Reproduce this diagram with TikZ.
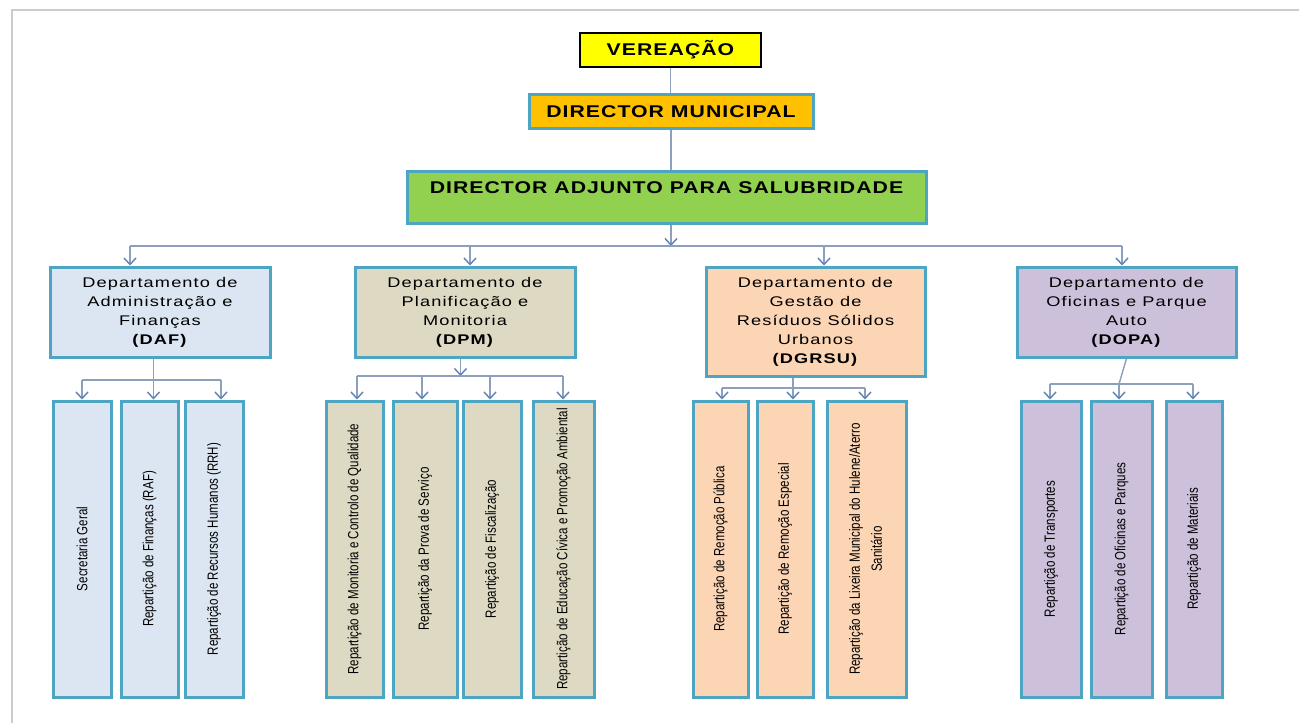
\documentclass[tikz,border=0pt]{standalone}
\usepackage{fontspec}
\setmainfont{Liberation Sans}
\newfontfamily\wfont[FakeStretch=1.3,LetterSpace=8]{Liberation Sans}
\newfontfamily\tfont[FakeStretch=1.25,LetterSpace=6]{Liberation Sans}
\newfontfamily\nfont[FakeStretch=0.78]{Liberation Sans}
\usetikzlibrary{arrows.meta}
\definecolor{tealb}{RGB}{75,165,195}
\definecolor{vyellow}{RGB}{255,255,0}
\definecolor{dmorange}{RGB}{255,192,0}
\definecolor{adjgreen}{RGB}{146,208,80}
\definecolor{dafc}{RGB}{220,230,242}
\definecolor{dpmc}{RGB}{221,217,195}
\definecolor{dgrc}{RGB}{252,213,181}
\definecolor{dopac}{RGB}{204,192,218}
\definecolor{connc}{RGB}{140,160,190}
\definecolor{arrc}{RGB}{95,130,180}
\newcommand\depttxt{\wfont\fontsize{14}{19}\selectfont}
\newcommand\subtxt{\nfont\fontsize{14.8}{22}\selectfont}
\newcommand\toptxt{\tfont\bfseries\fontsize{17}{20}\selectfont}
\begin{document}
\begin{tikzpicture}[x=1pt,y=-1pt,
  box/.style={draw=tealb,line width=3pt,inner sep=0pt,align=center},
  dept/.style={box,minimum width=220pt,minimum height=90pt,font=\depttxt},
  sub/.style={box,minimum height=296pt},
  conn/.style={draw=connc,line width=1.4pt},
  arr/.style={conn,-{Straight Barb[length=6.5pt,width=12pt,color=arrc]}}]
\useasboundingbox (0,0) rectangle (1299,723);
\fill[white] (0,0) rectangle (1299,723);
\draw[gray!40,line width=2pt] (12,723) -- (12,10) -- (1299,10);

% top
\node[box,draw=black,line width=2.5pt,fill=vyellow,minimum width=181pt,minimum height=34pt] (vere) at (670.5,50) {\toptxt VEREAÇÃO};
\node[box,fill=dmorange,minimum width=284pt,minimum height=34pt] (dm) at (671,111.5) {\toptxt DIRECTOR MUNICIPAL};
\node[box,fill=adjgreen,minimum width=519pt,minimum height=52pt,text height=18pt,text depth=26pt] (adj) at (666.5,197) {\toptxt DIRECTOR ADJUNTO PARA SALUBRIDADE};

% departments
\node[dept,fill=dafc] (daf) at (160,312) {Departamento de\\Administração e\\Finanças\\\textbf{(DAF)}};
\node[dept,fill=dpmc] (dpm) at (465,312) {Departamento de\\Planificação e\\Monitoria\\\textbf{(DPM)}};
\node[dept,fill=dgrc,minimum width=219pt,minimum height=109pt] (dgr) at (815.5,321.5) {Departamento de\\Gestão de\\Resíduos Sólidos\\Urbanos\\\textbf{(DGRSU)}};
\node[dept,fill=dopac,minimum width=219pt] (dopa) at (1126.5,312) {Departamento de\\Oficinas e Parque\\Auto\\\textbf{(DOPA)}};

% DAF sub
\node[sub,fill=dafc,minimum width=58pt] (s11) at (82,549) {\rotatebox{90}{\subtxt Secretaria Geral}};
\node[sub,fill=dafc,minimum width=57pt] (s12) at (149.5,549) {\rotatebox{90}{\subtxt Repartição de Finanças (RAF)}};
\node[sub,fill=dafc,minimum width=58pt] (s13) at (214,549) {\rotatebox{90}{\subtxt Repartição de Recursos Humanos (RRH)}};
% DPM sub
\node[sub,fill=dpmc,minimum width=57pt] (s21) at (354.5,549) {\rotatebox{90}{\subtxt Repartição de Monitoria e Controlo de Qualidade}};
\node[sub,fill=dpmc,minimum width=64pt] (s22) at (425,549) {\rotatebox{90}{\subtxt Repartição da Prova de Serviço}};
\node[sub,fill=dpmc,minimum width=58pt] (s23) at (492,549) {\rotatebox{90}{\subtxt Repartição de Fiscalização}};
\node[sub,fill=dpmc,minimum width=61pt] (s24) at (563.5,549) {\rotatebox{90}{\subtxt Repartição de Educação Cívica e Promoção Ambiental}};
% DGRSU sub
\node[sub,fill=dgrc,minimum width=55pt] (s31) at (720.5,549) {\rotatebox{90}{\subtxt Repartição de Remoção Pública}};
\node[sub,fill=dgrc,minimum width=56pt] (s32) at (785,549) {\rotatebox{90}{\subtxt Repartição de Remoção Especial}};
\node[sub,fill=dgrc,minimum width=79pt] (s33) at (866.5,549) {\rotatebox{90}{\subtxt\begin{tabular}{@{}c@{}}Repartição da Lixeira Municipal do Hulene/Aterro\\Sanitário\end{tabular}}};
% DOPA sub
\node[sub,fill=dopac,minimum width=60pt] (s41) at (1051,549) {\rotatebox{90}{\subtxt Repartição de Transportes}};
\node[sub,fill=dopac,minimum width=61pt] (s42) at (1121.5,549) {\rotatebox{90}{\subtxt Repartição de Oficinas e Parques}};
\node[sub,fill=dopac,minimum width=56pt] (s43) at (1194,549) {\rotatebox{90}{\subtxt Repartição de Materiais}};

% top connectors
\draw[conn] (vere.south) -- (vere.south |- dm.north);
\draw[conn] (dm.south) -- (dm.south |- adj.north);
\coordinate (j0) at (671,246);
\draw[arr] (adj.south -| j0) -- (j0);
\coordinate (hl) at (130,246);
\coordinate (h2) at (470,246);
\coordinate (h3) at (824,246);
\coordinate (hr) at (1122,246);
\draw[conn] (hl) -- (hr);
\draw[arr] (hl) -- (hl |- daf.north);
\draw[arr] (h2) -- (h2 |- dpm.north);
\draw[arr] (h3) -- (h3 |- dgr.north);
\draw[arr] (hr) -- (hr |- dopa.north);

% DAF connectors
\coordinate (a0) at (153.5,380);
\coordinate (a1) at (82,380);
\coordinate (a3) at (221,380);
\draw[conn] (daf.south -| a0) -- (a0);
\draw[conn] (a1) -- (a3);
\draw[arr] (a1) -- (a1 |- s11.north);
\draw[arr] (a0) -- (a0 |- s12.north);
\draw[arr] (a3) -- (a3 |- s13.north);

% DPM connectors
\coordinate (p0) at (460.5,376);
\coordinate (p1) at (357,376);
\coordinate (p2) at (422,376);
\coordinate (p3) at (490,376);
\coordinate (p4) at (563,376);
\draw[arr] (dpm.south -| p0) -- (p0);
\draw[conn] (p1) -- (p4);
\draw[arr] (p1) -- (p1 |- s21.north);
\draw[arr] (p2) -- (p2 |- s22.north);
\draw[arr] (p3) -- (p3 |- s23.north);
\draw[arr] (p4) -- (p4 |- s24.north);

% DGRSU connectors
\coordinate (g0) at (793,388);
\coordinate (g1) at (722,388);
\coordinate (g3) at (865,388);
\draw[conn] (dgr.south -| g0) -- (g0);
\draw[conn] (g1) -- (g3);
\draw[arr] (g1) -- (g1 |- s31.north);
\draw[arr] (g0) -- (g0 |- s32.north);
\draw[arr] (g3) -- (g3 |- s33.north);

% DOPA connectors
\coordinate (o0) at (1119,384);
\coordinate (o1) at (1050,384);
\coordinate (o3) at (1193,384);
\draw[conn] (dopa.south) -- (o0);
\draw[conn] (o1) -- (o3);
\draw[arr] (o1) -- (o1 |- s41.north);
\draw[arr] (o0) -- (o0 |- s42.north);
\draw[arr] (o3) -- (o3 |- s43.north);
\end{tikzpicture}
\end{document}
